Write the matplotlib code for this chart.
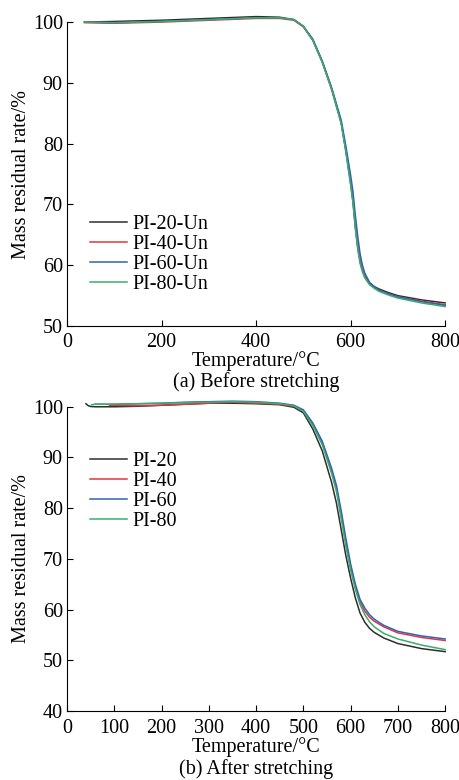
import matplotlib.pyplot as plt
import numpy as np

plt.rcParams['font.family'] = ['Liberation Serif', 'DejaVu Serif']

# (a) before stretching
labels_a = ['PI-20-Un', 'PI-40-Un', 'PI-60-Un', 'PI-80-Un']
t_a = [37, 100, 200, 300, 400, 450, 480, 500, 520, 540, 560, 580, 590, 600,
       605, 610, 615, 620, 625, 630, 640, 650, 660, 680, 700, 750, 800]
m_a20 = [100.0, 100.1, 100.3, 100.6, 100.9, 100.8, 100.4, 99.3, 97.1, 93.5, 89.0, 83.5, 78.8, 73.5,
         70.5, 66.3, 63.0, 60.6, 59.2, 58.2, 57.1, 56.5, 56.1, 55.5, 55.0, 54.3, 53.8]
m_a40 = [99.9, 99.8, 100.0, 100.3, 100.6, 100.6, 100.3, 99.2, 97.0, 93.4, 88.9, 83.5, 79.0, 73.9,
         71.0, 66.9, 63.5, 60.9, 59.3, 58.2, 57.0, 56.4, 55.9, 55.3, 54.8, 54.1, 53.5]
m_a60 = [100.0, 99.9, 100.1, 100.4, 100.7, 100.7, 100.4, 99.3, 97.2, 93.6, 89.2, 83.9, 79.6, 74.8,
         72.1, 68.2, 64.8, 61.9, 60.0, 58.7, 57.2, 56.4, 55.9, 55.3, 54.8, 54.0, 53.4]
m_a80 = [100.0, 99.9, 100.1, 100.4, 100.7, 100.7, 100.4, 99.3, 97.0, 93.4, 88.9, 83.3, 78.6, 73.2,
         70.2, 66.0, 62.7, 60.3, 58.9, 57.9, 56.8, 56.2, 55.7, 55.1, 54.6, 53.8, 53.2]

# (b) after stretching
labels_b = ['PI-20', 'PI-40', 'PI-60', 'PI-80']
t_b20 = [40, 45, 50, 60, 80, 100, 150, 200, 250, 300, 350, 400, 450, 480, 500, 520, 540, 560,
         570, 580, 590, 600, 610, 620, 630, 640, 650, 670, 700, 750, 800]
m_b20 = [100.6, 100.2, 100.05, 100.0, 100.0, 100.0, 100.1, 100.3, 100.5, 100.7, 100.7, 100.6, 100.4,
         99.9, 98.8, 95.6, 91.3, 85.0, 81.0, 75.8, 70.6, 66.2, 62.3, 59.3, 57.5, 56.3, 55.5, 54.4,
         53.3, 52.3, 51.7]
t_b40 = [90, 150, 200, 250, 300, 350, 400, 450, 480, 500, 520, 540, 560, 570, 580, 590, 600,
         610, 620, 630, 640, 650, 670, 700, 750, 800]
m_b40 = [100.3, 100.2, 100.3, 100.5, 100.7, 100.9, 100.7, 100.5, 100.1, 99.2, 96.6, 92.9, 87.3,
         84.0, 78.8, 73.3, 68.4, 64.5, 61.5, 59.7, 58.5, 57.7, 56.6, 55.4, 54.5, 53.9]
t_b60 = [60, 100, 150, 200, 250, 300, 350, 400, 450, 480, 500, 520, 540, 560, 570, 580, 590,
         600, 610, 620, 630, 640, 650, 670, 700, 750, 800]
m_b60 = [100.5, 100.5, 100.6, 100.7, 100.9, 101.0, 101.1, 101.0, 100.7, 100.3, 99.4, 96.8, 93.2,
         87.8, 84.5, 79.5, 74.0, 69.0, 65.0, 62.0, 60.3, 59.0, 58.1, 56.9, 55.7, 54.8, 54.2]
t_b80 = [52, 60, 100, 200, 300, 350, 400, 450, 480, 500, 520, 540, 560, 570, 580, 590, 600,
         610, 620, 630, 640, 650, 670, 700, 750, 800]
m_b80 = [100.4, 100.5, 100.5, 100.7, 100.9, 101.0, 100.9, 100.6, 100.2, 99.1, 96.3, 92.5, 86.8,
         83.3, 78.0, 72.5, 67.8, 64.0, 61.0, 59.0, 57.6, 56.6, 55.3, 54.2, 53.0, 52.1]

colors = ['#2e2e2e', '#e3343f', '#2f62bb', '#3aad6c']
fs = 14.5

fig = plt.figure(figsize=(4.6, 7.8), dpi=100)
ax1 = fig.add_axes([0.1457, 0.582, 0.822, 0.3897])
ax2 = fig.add_axes([0.1457, 0.0885, 0.822, 0.390])

for m, c, l in zip([m_a20, m_a40, m_a60, m_a80], colors, labels_a):
    ax1.plot(t_a, m, color=c, lw=1.1, label=l, clip_on=False)
for t, m, c, l in zip([t_b20, t_b40, t_b60, t_b80], [m_b20, m_b40, m_b60, m_b80], colors, labels_b):
    ax2.plot(t, m, color=c, lw=1.1, label=l, clip_on=False)

ax1.set_xlim(0, 800)
ax1.set_ylim(50, 100)
ax1.set_xticks([0, 200, 400, 600, 800])
ax1.set_yticks([50, 60, 70, 80, 90, 100])
ax2.set_xlim(0, 800)
ax2.set_ylim(40, 100)
ax2.set_xticks(np.arange(0, 801, 100))
ax2.set_yticks([40, 50, 60, 70, 80, 90, 100])

for ax, cap, xpad, cy in [(ax1, '(a) Before stretching', 5, -0.152),
                          (ax2, '(b) After stretching', 6, -0.158)]:
    for s in ['top', 'right']:
        ax.spines[s].set_visible(False)
    ax.tick_params(direction='in', labelsize=fs, length=4, width=0.8)
    ax.tick_params(axis='x', pad=xpad)
    ax.tick_params(axis='y', pad=3)
    ax.set_xlabel('Temperature/\u00b0C', fontsize=fs, labelpad=-1)
    ax.set_ylabel('Mass residual rate/%', fontsize=fs, labelpad=1)
    ax.text(0.5, cy, cap, transform=ax.transAxes, ha='center', va='top', fontsize=fs)

ax1.legend(loc='upper left', bbox_to_anchor=(0.035, 0.40), frameon=False, fontsize=fs,
           handlelength=1.8, handletextpad=0.3, labelspacing=0.05, borderpad=0)
ax2.legend(loc='upper left', bbox_to_anchor=(0.035, 0.886), frameon=False, fontsize=fs,
           handlelength=1.8, handletextpad=0.3, labelspacing=0.05, borderpad=0)

fig.savefig('out.png', dpi=100)
